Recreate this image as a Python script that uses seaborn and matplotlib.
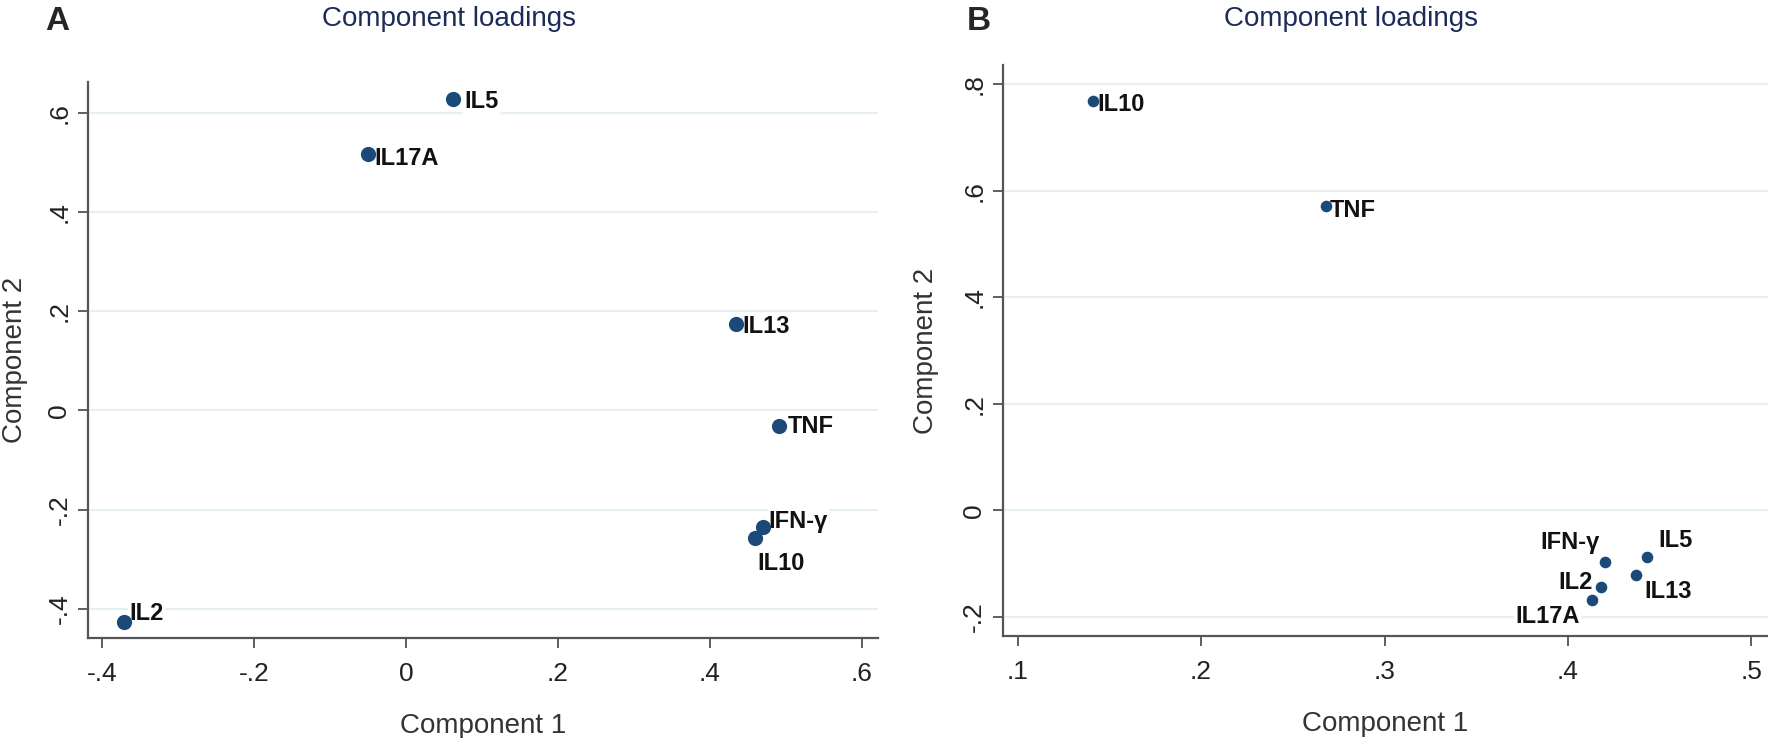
import matplotlib
matplotlib.use("Agg")
import matplotlib.pyplot as plt
import seaborn as sns
import pandas as pd
from matplotlib.ticker import FixedLocator, FixedFormatter

# Panel A loadings
a_names = ["IL5", "IL17A", "IL13", "TNF", "IFN-γ", "IL10", "IL2"]
a_comp1 = [0.062, -0.050, 0.434, 0.491, 0.470, 0.459, -0.371]
a_comp2 = [0.628, 0.517, 0.175, -0.032, -0.235, -0.258, -0.427]

# Panel B loadings
b_names = ["IL10", "TNF", "IFN-γ", "IL5", "IL13", "IL2", "IL17A"]
b_comp1 = [0.141, 0.268, 0.420, 0.443, 0.437, 0.418, 0.413]
b_comp2 = [0.769, 0.571, -0.097, -0.088, -0.122, -0.144, -0.168]

a_xticks = [-0.4, -0.2, 0, 0.2, 0.4, 0.6]
a_xlabels = ["-.4", "-.2", "0", ".2", ".4", ".6"]
a_yticks = [-0.4, -0.2, 0, 0.2, 0.4, 0.6]
a_ylabels = ["-.4", "-.2", "0", ".2", ".4", ".6"]
b_xticks = [0.1, 0.2, 0.3, 0.4, 0.5]
b_xlabels = [".1", ".2", ".3", ".4", ".5"]
b_yticks = [-0.2, 0, 0.2, 0.4, 0.6, 0.8]
b_ylabels = ["-.2", "0", ".2", ".4", ".6", ".8"]

# label offsets (points) and alignment, Stata-style clock positions
a_pos = {"IL5": (8, -2, "left", "center"), "IL17A": (5, -3, "left", "center"),
         "IL13": (5, -2, "left", "center"), "TNF": (6, 0, "left", "center"),
         "IFN-γ": (4, 4, "left", "center"), "IL10": (2, -10, "left", "top"),
         "IL2": (4, 6, "left", "center")}
b_pos = {"IL10": (3, -3, "left", "center"), "TNF": (3, -3, "left", "center"),
         "IFN-γ": (-4, 14, "right", "center"), "IL5": (8, 12, "left", "center"),
         "IL13": (6, -12, "left", "center"), "IL2": (-6, 3, "right", "center"),
         "IL17A": (-9, -12, "right", "center")}

sns.set_style("white")
plt.rcParams['font.family'] = ['Liberation Sans', 'DejaVu Sans']

DOT = "#1b4a78"
GRID = "#e6eff1"
TITLE = "#1c2b5a"

fig = plt.figure(figsize=(17.68, 7.38), dpi=100)


def draw_panel(ax, names, c1, c2, pos, xt, xl, yt, yl, xlim, ylim, msize, ylab_x):
    df = pd.DataFrame({"Component 1": c1, "Component 2": c2, "name": names})
    for y in yt:
        ax.axhline(y, color=GRID, lw=1.6, zorder=0)
    sns.scatterplot(data=df, x="Component 1", y="Component 2", ax=ax, s=msize,
                    color=DOT, edgecolor=DOT, linewidth=0, zorder=5)
    for _, r in df.iterrows():
        dx, dy, ha, va = pos[r["name"]]
        ax.annotate(r["name"], (r["Component 1"], r["Component 2"]),
                    xytext=(dx, dy), textcoords="offset points", ha=ha, va=va,
                    fontsize=17, fontweight="bold", color="#111111", zorder=4,
                    bbox=dict(boxstyle="square,pad=0.05", fc="white", ec="none"))
    ax.set_xlim(*xlim)
    ax.set_ylim(*ylim)
    ax.xaxis.set_major_locator(FixedLocator(xt))
    ax.xaxis.set_major_formatter(FixedFormatter(xl))
    ax.yaxis.set_major_locator(FixedLocator(yt))
    ax.yaxis.set_major_formatter(FixedFormatter(yl))
    ax.tick_params(axis="both", direction="out", length=7, width=1.2,
                   color="#444444", labelsize=19, labelcolor="#222222",
                   bottom=True, left=True)
    ax.tick_params(axis="x", pad=10)
    ax.tick_params(axis="y", pad=5)
    for lab in ax.get_yticklabels():
        lab.set_rotation(90)
        lab.set_va("center")
    for s in ["top", "right"]:
        ax.spines[s].set_visible(False)
    for s in ["left", "bottom"]:
        ax.spines[s].set_color("#555555")
        ax.spines[s].set_linewidth(1.6)
    ax.set_xlabel("Component 1", fontsize=20, color="#333333", labelpad=20)
    ax.set_ylabel("Component 2", fontsize=20, color="#333333")
    ax.yaxis.set_label_coords(ylab_x, 0.5)


ax1 = fig.add_axes([0.0498, 0.1355, 0.4468, 0.7534])
draw_panel(ax1, a_names, a_comp1, a_comp2, a_pos, a_xticks, a_xlabels,
           a_yticks, a_ylabels, (-0.418, 0.621), (-0.459, 0.662), 120, -0.076)

ax2 = fig.add_axes([0.5673, 0.1382, 0.4327, 0.7737])
draw_panel(ax2, b_names, b_comp1, b_comp2, b_pos, b_xticks, b_xlabels,
           b_yticks, b_ylabels, (0.092, 0.509), (-0.236, 0.836), 70, -0.084)

fig.text(449 / 1768, 1 - 19 / 738, "Component loadings", fontsize=20, color=TITLE,
         ha="center", va="center")
fig.text(1351 / 1768, 1 - 19 / 738, "Component loadings", fontsize=20, color=TITLE,
         ha="center", va="center")

fig.text(57 / 1768, 1 - 22 / 738, "A", fontsize=24, fontweight="bold", ha="center", va="center")
fig.text(979 / 1768, 1 - 22 / 738, "B", fontsize=24, fontweight="bold", ha="center", va="center")

fig.savefig("out.png", dpi=100)
